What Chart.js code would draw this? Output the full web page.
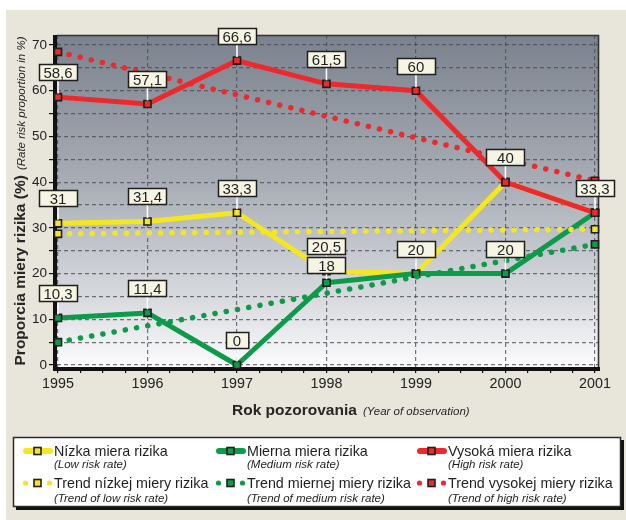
<!DOCTYPE html>
<html>
<head>
<meta charset="utf-8">
<script src="https://cdn.jsdelivr.net/npm/chart.js@4.4.1/dist/chart.umd.min.js"></script>
<style>
  html, body { margin: 0; padding: 0; background: #ffffff; }
  canvas { display: block; }
</style>
</head>
<body>
<canvas id="chart" width="626" height="520"></canvas>
<script>
// ---- data -------------------------------------------------------------
const years = [1995, 1996, 1997, 1998, 1999, 2000, 2001];
const lowRisk = [31, 31.4, 33.3, 20.5, 20, 40, 33.3];
const mediumRisk = [10.3, 11.4, 0, 18, 20, 20, 33.3];
const highRisk = [58.6, 57.1, 66.6, 61.5, 60, 40, 33.3];

// linear trends, given by their values at the first and last year
const trendYears = [1995, 2001];
const lowTrend = [28.7, 29.7];
const mediumTrend = [5.0, 26.4];
const highTrend = [68.5, 40.3];

const yTickValues = [0, 5, 10, 15, 20, 25, 30, 35, 40, 45, 50, 55, 60, 65, 70];
const xTickValues = years.flatMap(y => (y < 2001 ? [y, y + 0.25, y + 0.5, y + 0.75] : [y]));

const seriesNames = [
  'Nízka miera rizika', 'Mierna miera rizika', 'Vysoká miera rizika',
  'Trend nízkej miery rizika', 'Trend miernej miery rizika', 'Trend vysokej miery rizika'
];
const seriesNotes = [
  '(Low risk rate)', '(Medium risk rate)', '(High risk rate)',
  '(Trend of low risk rate)', '(Trend of medium risk rate)', '(Trend of high risk rate)'
];

const yTitleMain = 'Proporcia miery rizika (%)';
const yTitleNote = '(Rate risk proportion in %)';
const xTitleMain = 'Rok pozorovania';
const xTitleNote = '(Year of observation)';

// ---- style ------------------------------------------------------------
const FONT = '"Liberation Sans", Arial, sans-serif';
const COLORS = { low: '#f5e622', medium: '#0e9a4b', high: '#ec2a2d' };
const GRID = 'rgba(70,74,82,0.75)';
const INK = '#1e1e1e';

const toPoints = (xs, ys) => xs.map((x, i) => ({ x, y: ys[i] }));

function mainSeries(label, data, color, order) {
  return {
    label, data: toPoints(years, data), order,
    borderColor: color, borderWidth: 5, tension: 0,
    borderJoinStyle: 'round', borderCapStyle: 'round',
    pointStyle: 'rect', pointRadius: 5, pointHoverRadius: 5,
    pointBackgroundColor: color, pointBorderColor: INK, pointBorderWidth: 1.6,
    clip: false
  };
}
function trendSeries(label, data, color, order) {
  return {
    label, data: toPoints(trendYears, data), order,
    borderColor: color, borderWidth: 5.5, tension: 0,
    borderDash: [0.1, 11.3], borderCapStyle: 'round',
    pointStyle: 'rect', pointRadius: 5, pointHoverRadius: 5,
    pointBackgroundColor: color, pointBorderColor: INK, pointBorderWidth: 1.6,
    clip: false
  };
}

const datasets = [
  mainSeries(seriesNames[0], lowRisk, COLORS.low, 6),
  mainSeries(seriesNames[1], mediumRisk, COLORS.medium, 5),
  mainSeries(seriesNames[2], highRisk, COLORS.high, 4),
  trendSeries(seriesNames[3], lowTrend, COLORS.low, 3),
  trendSeries(seriesNames[4], mediumTrend, COLORS.medium, 2),
  trendSeries(seriesNames[5], highTrend, COLORS.high, 1)
];

// ---- page + plot background ---------------------------------------------
const backdrop = {
  id: 'backdrop',
  beforeDraw(chart) {
    const { ctx, chartArea: a } = chart;
    ctx.save();
    ctx.fillStyle = '#ffffff';
    ctx.fillRect(0, 0, chart.width, chart.height);
    ctx.fillStyle = '#e8e5da';
    ctx.fillRect(6, 10, chart.width - 6, chart.height - 10);
    const g = ctx.createLinearGradient(0, a.top, 0, a.bottom);
    g.addColorStop(0, '#7b828d');
    g.addColorStop(0.45, '#a9aeb6');
    g.addColorStop(0.8, '#d9dbdf');
    g.addColorStop(1, '#fcfcfd');
    ctx.fillStyle = g;
    ctx.fillRect(a.left, a.top, a.right - a.left, a.bottom - a.top);
    ctx.restore();
  }
};

// ---- frame: thin top/right edges, heavy axes -----------------------------
const frame = {
  id: 'frame',
  beforeDatasetsDraw(chart) {
    const { ctx, chartArea: a } = chart;
    ctx.save();
    ctx.strokeStyle = '#333';
    ctx.lineWidth = 1.6;
    ctx.beginPath();
    ctx.moveTo(a.left, a.top + 0.5);
    ctx.lineTo(a.right + 0.5, a.top + 0.5);
    ctx.lineTo(a.right + 0.5, a.bottom);
    ctx.stroke();
    ctx.strokeStyle = '#111';
    ctx.lineWidth = 4;
    ctx.beginPath();
    ctx.moveTo(a.left - 2, a.top);
    ctx.lineTo(a.left - 2, a.bottom + 4);
    ctx.moveTo(a.left - 4, a.bottom + 2);
    ctx.lineTo(a.right + 2, a.bottom + 2);
    ctx.stroke();
    ctx.restore();
  }
};

// ---- value boxes above the points ------------------------------------
const valueBoxes = {
  id: 'valueBoxes',
  afterDatasetsDraw(chart) {
    const { ctx } = chart;
    const xs = chart.scales.x, ys = chart.scales.y;
    ctx.save();
    ctx.font = '15px ' + FONT;
    const boxes = [];
    years.forEach((yr, i) => {
      const px = xs.getPixelForValue(yr);
      const seen = new Set();
      const items = [];
      [highRisk, lowRisk, mediumRisk].forEach(arr => {
        const v = arr[i];
        if (seen.has(v)) return;
        seen.add(v);
        items.push({ v, py: ys.getPixelForValue(v) });
      });
      items.sort((a, b) => a.py - b.py);
      let prevBottom = -Infinity;
      items.forEach(it => {
        const h = 16;
        let bottom = it.py - 17;
        let top = bottom - h;
        if (top < prevBottom + 3) { top = prevBottom + 3; bottom = top + h; }
        prevBottom = bottom;
        const text = String(it.v).replace('.', ',');
        const w = text.length > 1 ? 38 : ctx.measureText(text).width + 14;
        boxes.push({ px, py: it.py, top, bottom, w, text });
      });
    });
    ctx.strokeStyle = '#ffffff';
    ctx.lineWidth = 1.6;
    boxes.forEach(b => {
      ctx.beginPath();
      ctx.moveTo(b.px, b.bottom);
      ctx.lineTo(b.px, b.py - 3.5);
      ctx.stroke();
    });
    ctx.textAlign = 'center';
    ctx.textBaseline = 'middle';
    boxes.forEach(b => {
      const x = Math.round(b.px - b.w / 2) + 0.5;
      const y = Math.round(b.top) + 0.5;
      ctx.fillStyle = '#f6f5e4';
      ctx.fillRect(x, y, b.w, b.bottom - b.top);
      ctx.strokeStyle = INK;
      ctx.lineWidth = 1.5;
      ctx.strokeRect(x, y, b.w, b.bottom - b.top);
      ctx.fillStyle = INK;
      ctx.fillText(b.text, b.px, y + (b.bottom - b.top) / 2 + 1);
    });
    ctx.restore();
  }
};

// ---- axis titles and legend ------------------------------------------------
function drawMixed(ctx, x, y, main, note, gap) {
  ctx.font = 'bold 15.5px ' + FONT;
  const w1 = ctx.measureText(main).width;
  ctx.fillText(main, x, y);
  ctx.font = 'italic 11.5px ' + FONT;
  ctx.fillText(note, x + w1 + gap, y);
  return w1;
}

const annotations = {
  id: 'annotations',
  afterDraw(chart) {
    const { ctx, chartArea: a } = chart;
    ctx.save();
    ctx.fillStyle = '#262626';
    ctx.textBaseline = 'alphabetic';
    ctx.textAlign = 'left';

    // y title, rotated, centred on the plot height
    ctx.font = 'bold 15.5px ' + FONT;
    const w1 = ctx.measureText(yTitleMain).width;
    ctx.font = 'italic 11.5px ' + FONT;
    const w2 = ctx.measureText(yTitleNote).width;
    const total = w1 + 5 + w2;
    ctx.save();
    ctx.translate(25, (a.top + a.bottom) / 2);
    ctx.rotate(-Math.PI / 2);
    drawMixed(ctx, -total / 2, 0, yTitleMain, yTitleNote, 5);
    ctx.restore();

    // x title
    drawMixed(ctx, 232, 415, xTitleMain, xTitleNote, 6);

    // legend frame with drop shadow
    const L = { left: 13, top: 437, right: 621, bottom: 507 };
    ctx.fillStyle = '#111';
    ctx.fillRect(L.left + 3, L.top + 3, L.right - L.left, L.bottom - L.top);
    ctx.fillStyle = '#ffffff';
    ctx.fillRect(L.left, L.top, L.right - L.left, L.bottom - L.top);
    ctx.strokeStyle = '#2a2a2a';
    ctx.lineWidth = 1.5;
    ctx.strokeRect(L.left + 0.5, L.top + 0.5, L.right - L.left - 1, L.bottom - L.top - 1);

    const colX = [54, 247, 448];
    const rowY = [451, 483];
    const mainBase = [455.5, 488];
    const noteBase = [468, 502];
    datasets.forEach((ds, i) => {
      const col = i % 3, row = Math.floor(i / 3);
      const tx = colX[col], cy = rowY[row];
      const color = ds.borderColor;
      if (row === 0) {
        ctx.strokeStyle = color;
        ctx.lineWidth = 6;
        ctx.lineCap = 'round';
        ctx.beginPath();
        ctx.moveTo(tx - 28, cy);
        ctx.lineTo(tx - 4, cy);
        ctx.stroke();
      } else {
        ctx.fillStyle = color;
        [tx - 28.5, tx - 4.5].forEach(dx => {
          ctx.beginPath();
          ctx.arc(dx, cy, 2.6, 0, Math.PI * 2);
          ctx.fill();
        });
      }
      const mx = tx - 16.5;
      ctx.fillStyle = color;
      ctx.fillRect(mx - 3.5, cy - 3.5, 7, 7);
      ctx.strokeStyle = INK;
      ctx.lineWidth = 1.6;
      ctx.strokeRect(mx - 3.5, cy - 3.5, 7, 7);

      ctx.fillStyle = '#1e1e1e';
      ctx.font = '14.3px ' + FONT;
      ctx.fillText(ds.label, tx, mainBase[row]);
      ctx.font = 'italic 11.5px ' + FONT;
      ctx.fillText(seriesNotes[i], tx, noteBase[row]);
    });
    ctx.restore();
  }
};

// ---- chart -------------------------------------------------------------
Chart.defaults.font.family = FONT;

new Chart(document.getElementById('chart'), {
  type: 'line',
  data: { datasets },
  plugins: [backdrop, frame, valueBoxes, annotations],
  options: {
    responsive: false,
    animation: false,
    events: [],
    layout: { padding: { left: 0, top: 35, right: 28, bottom: 123 } },
    plugins: { legend: { display: false }, tooltip: { enabled: false } },
    scales: {
      x: {
        type: 'linear',
        min: 1994.989,
        max: 2001.034,
        afterBuildTicks: s => { s.ticks = xTickValues.map(v => ({ value: v })); },
        afterFit: s => { s.height = 30; },
        border: { display: false, dash: [4, 3] },
        grid: {
          color: c => (c.tick && Number.isInteger(c.tick.value) ? GRID : 'rgba(0,0,0,0)'),
          lineWidth: 1.2,
          tickLength: 6,
          tickColor: '#111',
          tickWidth: 1.2,
          tickBorderDash: []
        },
        ticks: {
          autoSkip: false,
          maxRotation: 0,
          padding: 2.5,
          color: '#222',
          font: { size: 14.3 },
          callback: v => (Number.isInteger(v) ? String(v) : '')
        }
      },
      y: {
        min: -0.4375,
        max: 72.19,
        afterBuildTicks: s => { s.ticks = yTickValues.map(v => ({ value: v })); },
        afterFit: s => { s.width = 57; },
        border: { display: false, dash: [4, 3] },
        grid: {
          color: GRID,
          lineWidth: 1.2,
          tickLength: 8,
          tickColor: '#111',
          tickWidth: 1.2,
          tickBorderDash: []
        },
        ticks: {
          padding: 2,
          color: '#222',
          font: { size: 13.5 },
          callback: v => (v % 10 === 0 ? String(v) : '')
        }
      }
    }
  }
});
</script>
</body>
</html>
